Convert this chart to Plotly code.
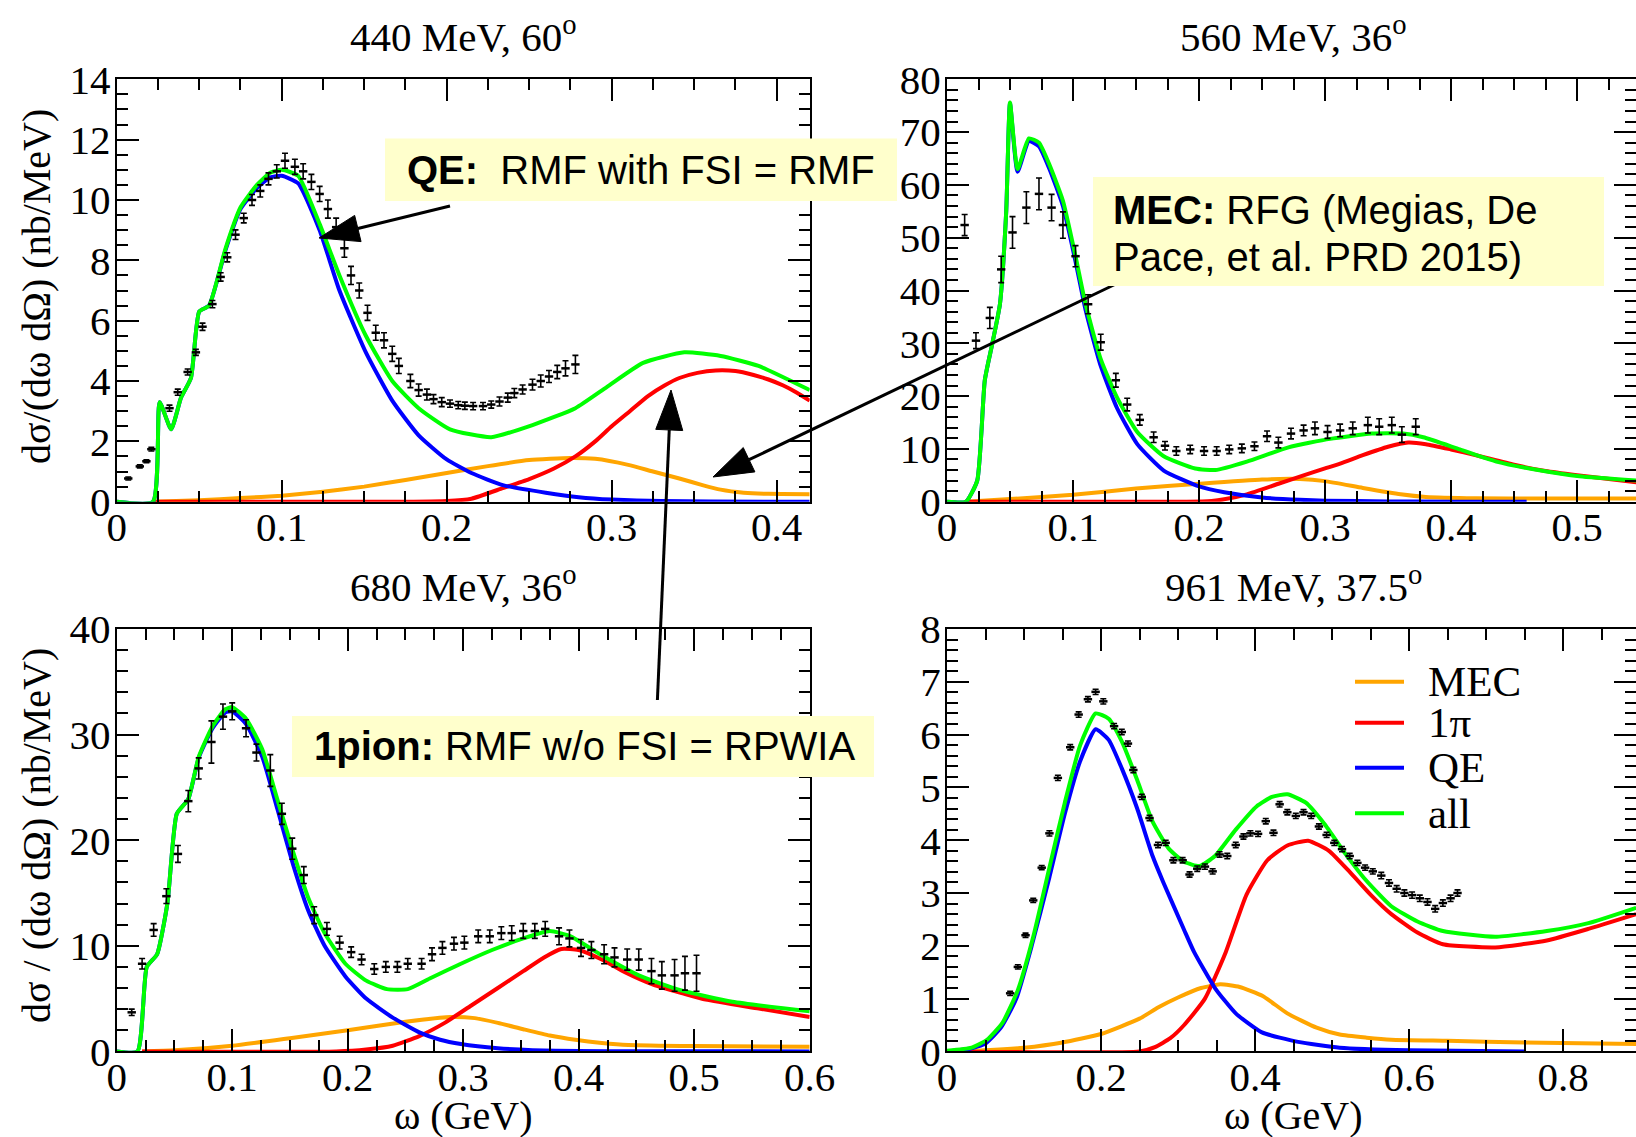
import math
import plotly.graph_objects as go

W, H = 1636, 1137

# ---------------- 440 MeV, 60 deg ----------------
w440_mec = [0.022, 0.05, 0.075, 0.1, 0.125, 0.15, 0.175, 0.2, 0.225, 0.25, 0.275, 0.29, 0.31, 0.325, 0.341, 0.355, 0.366, 0.38, 0.395, 0.42]
mec440 = [0, 0.05, 0.12, 0.2, 0.33, 0.5, 0.72, 0.95, 1.18, 1.38, 1.45, 1.42, 1.22, 1.0, 0.77, 0.55, 0.4, 0.3, 0.26, 0.25]
w440_pi = [0.022, 0.18, 0.2, 0.215, 0.234, 0.25, 0.265, 0.278, 0.29, 0.3, 0.311, 0.322, 0.332, 0.341, 0.352, 0.363, 0.375, 0.386, 0.395, 0.404, 0.412, 0.42]
pi440 = [0, 0, 0.02, 0.1, 0.45, 0.75, 1.1, 1.5, 2.0, 2.5, 3.0, 3.5, 3.85, 4.1, 4.27, 4.35, 4.33, 4.2, 4.05, 3.85, 3.62, 3.35]
w440_qe = [0, 0.022, 0.026, 0.033, 0.039, 0.045, 0.050, 0.056, 0.066, 0.075, 0.085, 0.093, 0.1, 0.11, 0.123, 0.135, 0.151, 0.167, 0.183, 0.2, 0.215, 0.234, 0.26, 0.28, 0.3, 0.33, 0.36, 0.42]
qe440 = [0, 0, 3.3, 2.4, 3.45, 4.1, 6.3, 6.5, 8.35, 9.7, 10.4, 10.75, 10.8, 10.55, 9.0, 7.0, 4.95, 3.35, 2.2, 1.4, 0.95, 0.55, 0.3, 0.15, 0.07, 0.02, 0.005, 0]
w440_all = [0, 0.022, 0.026, 0.033, 0.039, 0.045, 0.050, 0.056, 0.066, 0.075, 0.085, 0.093, 0.1, 0.11, 0.123, 0.135, 0.151, 0.167, 0.183, 0.202, 0.227, 0.252, 0.278, 0.297, 0.319, 0.344, 0.366, 0.389, 0.42]
all440 = [0, 0, 3.3, 2.4, 3.45, 4.1, 6.3, 6.5, 8.4, 9.75, 10.5, 10.9, 11.0, 10.8, 9.2, 7.5, 5.5, 4.0, 3.1, 2.4, 2.14, 2.54, 3.1, 3.8, 4.6, 4.95, 4.83, 4.5, 3.7]
d440_x = [0.007, 0.014, 0.018, 0.021, 0.032, 0.037, 0.043, 0.048, 0.052, 0.058, 0.063, 0.067, 0.072, 0.077, 0.082, 0.087, 0.092, 0.097, 0.102, 0.108, 0.113, 0.118, 0.123, 0.128, 0.133, 0.138, 0.142, 0.147, 0.152, 0.157, 0.162, 0.167, 0.171, 0.178, 0.183, 0.188, 0.192, 0.197, 0.202, 0.207, 0.211, 0.216, 0.222, 0.227, 0.232, 0.237, 0.241, 0.246, 0.252, 0.257, 0.262, 0.267, 0.272, 0.278]
d440_y = [0.77, 1.17, 1.34, 1.74, 3.1, 3.63, 4.3, 4.95, 5.8, 6.55, 7.45, 8.1, 8.85, 9.4, 10.0, 10.3, 10.7, 10.95, 11.3, 11.1, 10.95, 10.6, 10.2, 9.7, 9.1, 8.4, 7.5, 7.0, 6.26, 5.6, 5.35, 4.9, 4.5, 4.0, 3.7, 3.55, 3.4, 3.3, 3.25, 3.2, 3.18, 3.17, 3.17, 3.22, 3.32, 3.45, 3.6, 3.72, 3.88, 4.0, 4.15, 4.3, 4.42, 4.55]
d440_e = [0.05, 0.05, 0.05, 0.06, 0.1, 0.1, 0.1, 0.1, 0.12, 0.12, 0.14, 0.15, 0.16, 0.16, 0.18, 0.2, 0.2, 0.22, 0.25, 0.25, 0.25, 0.25, 0.25, 0.3, 0.3, 0.3, 0.3, 0.25, 0.25, 0.25, 0.25, 0.25, 0.25, 0.22, 0.2, 0.18, 0.15, 0.15, 0.12, 0.12, 0.12, 0.12, 0.12, 0.12, 0.15, 0.15, 0.15, 0.15, 0.18, 0.2, 0.2, 0.22, 0.25, 0.3]

# ---------------- 560 MeV, 36 deg ----------------
w560_mec = [0.015, 0.05, 0.1, 0.15, 0.2, 0.25, 0.28, 0.3, 0.33, 0.36, 0.38, 0.42, 0.47, 0.547]
mec560 = [0, 0.5, 1.3, 2.5, 3.4, 4.2, 4.3, 3.9, 2.6, 1.4, 0.9, 0.65, 0.6, 0.6]
w560_pi = [0.015, 0.19, 0.21, 0.22, 0.238, 0.263, 0.283, 0.3, 0.312, 0.33, 0.35, 0.366, 0.38, 0.4, 0.42, 0.45, 0.475, 0.5, 0.547]
pi560 = [0, 0, 0.15, 0.45, 1.4, 3.4, 5.0, 6.3, 7.2, 8.8, 10.4, 11.2, 10.9, 9.9, 8.8, 7.0, 5.8, 5.0, 3.7]
w560_qe = [0, 0.015, 0.024, 0.03, 0.036, 0.042, 0.047, 0.05, 0.056, 0.065, 0.073, 0.081, 0.092, 0.102, 0.11, 0.122, 0.135, 0.151, 0.172, 0.2, 0.22, 0.25, 0.28, 0.3, 0.35, 0.4, 0.46]
qe560 = [0, 0, 4, 23, 30, 37.4, 55, 75.4, 62.5, 68.3, 67.3, 63.2, 56, 45.5, 36.3, 25.7, 17.7, 10.9, 5.9, 2.9, 1.8, 0.8, 0.35, 0.2, 0.05, 0.01, 0]
w560_all = [0, 0.015, 0.024, 0.03, 0.036, 0.042, 0.047, 0.05, 0.056, 0.065, 0.073, 0.081, 0.092, 0.102, 0.11, 0.122, 0.135, 0.151, 0.172, 0.197, 0.213, 0.238, 0.271, 0.304, 0.337, 0.362, 0.378, 0.407, 0.436, 0.469, 0.502, 0.547]
all560 = [0, 0, 4, 23, 30, 37.4, 55, 75.6, 63, 68.8, 68, 64, 57, 46.5, 37.4, 27, 19.7, 13.2, 8.6, 6.3, 6.0, 7.6, 10.3, 11.9, 12.9, 12.9, 12.2, 9.9, 7.6, 6.0, 4.8, 4.0]
d560_x = [0.014, 0.023, 0.034, 0.043, 0.052, 0.063, 0.073, 0.083, 0.092, 0.102, 0.112, 0.122, 0.134, 0.143, 0.153, 0.164, 0.173, 0.182, 0.193, 0.204, 0.214, 0.224, 0.234, 0.244, 0.254, 0.263, 0.273, 0.283, 0.292, 0.302, 0.312, 0.322, 0.334, 0.343, 0.353, 0.361, 0.372]
d560_y = [52.4, 30.5, 34.8, 44, 51, 55.7, 58.3, 55.7, 52.4, 46.5, 37.4, 30.2, 23, 18.4, 15.5, 12.2, 10.6, 9.6, 9.9, 9.6, 9.6, 9.9, 10.1, 10.5, 12.4, 11.2, 12.9, 13.5, 13.9, 13.2, 13.5, 13.9, 14.5, 14.2, 14.5, 12.7, 14.2]
d560_e = [2, 1.5, 2, 2.5, 3, 3, 3, 2.5, 2.5, 2, 1.8, 1.5, 1.3, 1.2, 1, 1, 0.8, 0.8, 0.8, 0.8, 0.8, 0.8, 0.8, 0.8, 1, 1, 1, 1, 1.2, 1.2, 1.2, 1.2, 1.5, 1.5, 1.5, 1.5, 1.5]

# ---------------- 680 MeV, 36 deg ----------------
w680_mec = [0.022, 0.05, 0.1, 0.15, 0.2, 0.25, 0.289, 0.31, 0.33, 0.352, 0.375, 0.397, 0.42, 0.443, 0.5, 0.6]
mec680 = [0, 0.1, 0.54, 1.25, 2.0, 2.8, 3.26, 3.15, 2.7, 2.1, 1.5, 1.1, 0.8, 0.6, 0.5, 0.45]
w680_pi = [0.022, 0.19, 0.216, 0.239, 0.262, 0.284, 0.307, 0.33, 0.352, 0.37, 0.385, 0.4, 0.42, 0.44, 0.465, 0.49, 0.51, 0.556, 0.6]
pi680 = [0, 0, 0.18, 0.54, 1.45, 2.7, 4.35, 6.0, 7.6, 8.9, 9.7, 9.6, 8.7, 7.5, 6.3, 5.5, 4.9, 4.06, 3.26]
w680_qe = [0, 0.018, 0.026, 0.035, 0.044, 0.052, 0.062, 0.071, 0.083, 0.094, 0.1, 0.112, 0.126, 0.139, 0.153, 0.166, 0.18, 0.198, 0.216, 0.239, 0.262, 0.28, 0.298, 0.33, 0.36, 0.4, 0.45, 0.6]
qe680 = [0, 0, 8, 9.2, 14.1, 22.5, 23.9, 27.8, 30.6, 32.1, 32.2, 31.0, 27.9, 23.0, 17.6, 13.3, 10.0, 7.1, 5.0, 3.2, 1.8, 1.1, 0.7, 0.3, 0.12, 0.04, 0.01, 0]
w680_all = [0, 0.018, 0.026, 0.035, 0.044, 0.052, 0.062, 0.071, 0.083, 0.094, 0.1, 0.112, 0.126, 0.139, 0.153, 0.166, 0.18, 0.198, 0.216, 0.234, 0.252, 0.271, 0.298, 0.325, 0.352, 0.375, 0.393, 0.42, 0.452, 0.488, 0.533, 0.6]
all680 = [0, 0, 8, 9.2, 14.1, 22.5, 23.9, 27.9, 30.8, 32.4, 32.6, 31.5, 28.6, 23.9, 18.8, 14.5, 11.2, 8.3, 6.7, 5.9, 5.9, 6.9, 8.3, 9.6, 10.7, 11.4, 10.9, 9.1, 7.2, 5.8, 4.7, 3.8]
d680_x = [0.013, 0.022, 0.032, 0.043, 0.053, 0.062, 0.071, 0.082, 0.092, 0.1, 0.112, 0.121, 0.133, 0.143, 0.152, 0.162, 0.171, 0.182, 0.193, 0.203, 0.212, 0.223, 0.233, 0.243, 0.252, 0.264, 0.273, 0.282, 0.292, 0.301, 0.313, 0.323, 0.333, 0.342, 0.352, 0.362, 0.371, 0.383, 0.392, 0.402, 0.411, 0.422, 0.431, 0.442, 0.452, 0.463, 0.472, 0.483, 0.492, 0.502]
d680_y = [3.7, 8.3, 11.5, 14.7, 18.7, 23.7, 26.8, 29.3, 31.7, 32.2, 30.6, 28.3, 26.6, 22.5, 19.2, 16.7, 12.9, 11.6, 10.3, 9.4, 8.7, 7.8, 8.0, 8.0, 8.3, 8.3, 9.2, 9.8, 10.2, 10.3, 10.9, 10.9, 11.2, 11.2, 11.4, 11.4, 11.6, 10.9, 10.7, 9.8, 9.6, 9.2, 8.9, 8.7, 8.7, 7.6, 7.2, 7.2, 7.4, 7.4]
d680_e = [0.3, 0.5, 0.6, 0.7, 0.8, 1.0, 1.0, 2.0, 1.2, 0.8, 0.8, 0.8, 1.5, 1.0, 1.0, 0.8, 0.8, 0.6, 0.6, 0.5, 0.5, 0.5, 0.5, 0.5, 0.5, 0.5, 0.6, 0.6, 0.6, 0.6, 0.6, 0.6, 0.6, 0.7, 0.7, 0.7, 0.7, 0.8, 0.8, 0.8, 0.8, 0.9, 0.9, 1.0, 1.0, 1.2, 1.3, 1.5, 1.6, 1.7]

# ---------------- 961 MeV, 37.5 deg ----------------
w961_mec = [0, 0.05, 0.1, 0.15, 0.2, 0.25, 0.274, 0.3, 0.33, 0.355, 0.38, 0.41, 0.442, 0.48, 0.51, 0.545, 0.577, 0.65, 0.75, 0.895]
mec961 = [0, 0.02, 0.07, 0.17, 0.33, 0.62, 0.83, 1.02, 1.2, 1.27, 1.22, 1.05, 0.72, 0.45, 0.32, 0.26, 0.22, 0.2, 0.17, 0.14]
w961_pi = [0, 0.25, 0.27, 0.29, 0.308, 0.335, 0.362, 0.389, 0.416, 0.442, 0.469, 0.496, 0.523, 0.55, 0.577, 0.611, 0.644, 0.712, 0.779, 0.833, 0.895]
pi961 = [0, 0, 0.08, 0.25, 0.5, 1.0, 1.88, 2.97, 3.62, 3.9, 3.99, 3.8, 3.4, 2.97, 2.6, 2.25, 2.03, 1.97, 2.1, 2.32, 2.6]
w961_qe = [0, 0.03, 0.05, 0.07, 0.09, 0.11, 0.133, 0.153, 0.173, 0.193, 0.21, 0.227, 0.247, 0.267, 0.281, 0.308, 0.321, 0.348, 0.375, 0.409, 0.456, 0.51, 0.6, 0.752]
qe961 = [0, 0.05, 0.15, 0.45, 1.0, 2.0, 3.3, 4.5, 5.5, 6.1, 5.9, 5.36, 4.6, 3.7, 3.2, 2.3, 1.88, 1.2, 0.72, 0.36, 0.18, 0.07, 0.02, 0]
w961_all = [0, 0.032, 0.052, 0.072, 0.092, 0.112, 0.133, 0.153, 0.173, 0.193, 0.21, 0.227, 0.247, 0.267, 0.288, 0.308, 0.328, 0.348, 0.375, 0.402, 0.422, 0.442, 0.466, 0.49, 0.516, 0.543, 0.577, 0.611, 0.644, 0.712, 0.779, 0.833, 0.895]
all961 = [0.01, 0.07, 0.22, 0.54, 1.16, 2.17, 3.48, 4.71, 5.8, 6.4, 6.3, 5.87, 5.14, 4.35, 3.84, 3.59, 3.51, 3.7, 4.2, 4.64, 4.82, 4.87, 4.71, 4.31, 3.77, 3.26, 2.75, 2.46, 2.28, 2.17, 2.28, 2.43, 2.72]
d961_x = [0.082, 0.092, 0.102, 0.112, 0.123, 0.133, 0.144, 0.16, 0.171, 0.183, 0.193, 0.203, 0.217, 0.227, 0.235, 0.242, 0.253, 0.263, 0.274, 0.284, 0.294, 0.306, 0.315, 0.325, 0.335, 0.345, 0.354, 0.364, 0.375, 0.385, 0.394, 0.404, 0.414, 0.424, 0.432, 0.442, 0.453, 0.463, 0.473, 0.483, 0.493, 0.503, 0.513, 0.523, 0.533, 0.543, 0.553, 0.564, 0.574, 0.584, 0.594, 0.604, 0.614, 0.624, 0.634, 0.644, 0.654, 0.663]
d961_y = [1.1, 1.6, 2.2, 2.86, 3.48, 4.13, 5.18, 5.76, 6.38, 6.67, 6.81, 6.63, 6.16, 6.05, 5.83, 5.33, 4.82, 4.42, 3.91, 3.95, 3.62, 3.62, 3.35, 3.46, 3.5, 3.41, 3.73, 3.7, 3.91, 4.07, 4.13, 4.12, 4.36, 4.14, 4.68, 4.53, 4.46, 4.53, 4.46, 4.26, 4.1, 3.95, 3.83, 3.7, 3.57, 3.48, 3.41, 3.33, 3.19, 3.08, 3.0, 2.96, 2.9, 2.83, 2.7, 2.81, 2.9, 3.0]
d961_e = [0.04, 0.04, 0.04, 0.04, 0.04, 0.05, 0.05, 0.05, 0.05, 0.05, 0.05, 0.05, 0.05, 0.05, 0.05, 0.05, 0.05, 0.05, 0.05, 0.05, 0.05, 0.05, 0.05, 0.05, 0.05, 0.05, 0.05, 0.05, 0.05, 0.05, 0.05, 0.05, 0.05, 0.05, 0.05, 0.05, 0.05, 0.05, 0.05, 0.05, 0.05, 0.05, 0.05, 0.05, 0.05, 0.05, 0.05, 0.06, 0.06, 0.06, 0.06, 0.06, 0.06, 0.06, 0.06, 0.06, 0.06, 0.06]

titles = ["440 MeV, 60<sup>o</sup>", "560 MeV, 36<sup>o</sup>", "680 MeV, 36<sup>o</sup>", "961 MeV, 37.5<sup>o</sup>"]
legend_names = ["MEC", "1π", "QE", "all"]
colors = ["#ffa500", "#ff0000", "#0000ff", "#00ff00"]

SERIF = "Liberation Serif"
SANS = "Liberation Sans"


def px_x(x):
    return x / W


def px_y(y):
    return 1 - y / H


panels = [
    dict(ax="", curves=[(w440_mec, mec440), (w440_pi, pi440), (w440_qe, qe440), (w440_all, all440)],
         data=(d440_x, d440_y, d440_e)),
    dict(ax="2", curves=[(w560_mec, mec560), (w560_pi, pi560), (w560_qe, qe560), (w560_all, all560)],
         data=(d560_x, d560_y, d560_e)),
    dict(ax="3", curves=[(w680_mec, mec680), (w680_pi, pi680), (w680_qe, qe680), (w680_all, all680)],
         data=(d680_x, d680_y, d680_e)),
    dict(ax="4", curves=[(w961_mec, mec961), (w961_pi, pi961), (w961_qe, qe961), (w961_all, all961)],
         data=(d961_x, d961_y, d961_e)),
]

fig = go.Figure()
for p in panels:
    xa, ya = "x" + p["ax"], "y" + p["ax"]
    for (wx, vy), col, name in zip(p["curves"], colors, legend_names):
        fig.add_trace(go.Scatter(x=wx, y=vy, mode="lines", name=name, showlegend=False,
                                 line=dict(color=col, width=4, shape="spline", smoothing=0.5),
                                 xaxis=xa, yaxis=ya))
    dx, dy, de = p["data"]
    fig.add_trace(go.Scatter(x=dx, y=dy, mode="markers", showlegend=False, xaxis=xa, yaxis=ya,
                             marker=dict(symbol="line-ew", size=6, color="black",
                                         line=dict(color="black", width=2.5)),
                             error_y=dict(type="data", array=de, visible=True, color="black",
                                          thickness=1.6, width=3),
                             cliponaxis=False))

# frame geometry (pixels)
L1, R1 = 116.7, 809.7
L2, R2 = 947.0, 1636.0
T1, B1 = 79.3, 501.7
T2, B2 = 629.0, 1051.4

axis_common = dict(showline=True, linewidth=2, linecolor="black", mirror="allticks",
                   ticks="inside", ticklen=22, tickwidth=2, tickcolor="black",
                   showgrid=False, zeroline=False, automargin=False,
                   tickfont=dict(family=SERIF, size=41, color="black"))
xcommon = dict(axis_common, ticklabelstandoff=-12)
ycommon = dict(axis_common, ticklabelstandoff=-4)


def minor(d):
    return dict(dtick=d, ticks="inside", ticklen=11, tickwidth=2, tickcolor="black", showgrid=False)


fig.update_layout(
    width=W, height=H, margin=dict(l=0, r=0, t=0, b=0, pad=0), autosize=False,
    paper_bgcolor="white", plot_bgcolor="white", showlegend=False,
    xaxis=dict(xcommon, domain=[px_x(L1), px_x(R1)], anchor="y", range=[0, 0.42],
               tick0=0, dtick=0.1, minor=minor(0.025)),
    yaxis=dict(ycommon, domain=[px_y(B1), px_y(T1)], anchor="x", range=[0, 14],
               tick0=0, dtick=2, minor=minor(0.5)),
    xaxis2=dict(xcommon, domain=[px_x(L2), 1.0], anchor="y2", range=[0, 0.5468],
                tick0=0, dtick=0.1, minor=minor(0.025)),
    yaxis2=dict(ycommon, domain=[px_y(B1), px_y(T1)], anchor="x2", range=[0, 80],
                tick0=0, dtick=10, minor=minor(2)),
    xaxis3=dict(xcommon, domain=[px_x(L1), px_x(R1)], anchor="y3", range=[0, 0.6],
                tick0=0, dtick=0.1, minor=minor(0.025)),
    yaxis3=dict(ycommon, domain=[px_y(B2), px_y(T2)], anchor="x3", range=[0, 40],
                tick0=0, dtick=10, minor=minor(2)),
    xaxis4=dict(xcommon, domain=[px_x(L2), 1.0], anchor="y4", range=[0, 0.8948],
                tick0=0, dtick=0.2, minor=minor(0.05)),
    yaxis4=dict(ycommon, domain=[px_y(B2), px_y(T2)], anchor="x4", range=[0, 8],
                tick0=0, dtick=1, minor=minor(0.2)),
)

annotations = []


def add_text(text, x, y, size, family=SERIF, xanchor="center", yanchor="middle", angle=0):
    annotations.append(dict(text=text, x=px_x(x), y=px_y(y), xref="paper", yref="paper",
                            xanchor=xanchor, yanchor=yanchor, showarrow=False, textangle=angle,
                            font=dict(family=family, size=size, color="black")))


# panel titles
cx1, cx2 = (L1 + R1) / 2, (L2 + 1640) / 2
add_text(titles[0], cx1, 34, 41)
add_text(titles[1], cx2, 34, 41)
add_text(titles[2], cx1, 584, 41)
add_text(titles[3], cx2, 584, 41)

# axis titles
add_text("dσ/(dω dΩ) (nb/MeV)", 36, 287, 40, angle=-90)
add_text("dσ / (dω dΩ) (nb/MeV)", 36, 836, 40, angle=-90)
add_text("ω (GeV)", cx1, 1115, 40)
add_text("ω (GeV)", cx2, 1115, 40)

# legend inside the 961 MeV panel
shapes = []
leg_y = [681.7, 722.7, 767.7, 813.3]
for name, col, ly in zip(legend_names, colors, leg_y):
    shapes.append(dict(type="line", xref="paper", yref="paper", x0=px_x(1355), x1=px_x(1404),
                       y0=px_y(ly), y1=px_y(ly), line=dict(color=col, width=4)))
    add_text(name, 1426, ly, 43, xanchor="left")


def arrow(tail, tip, head_len=40, head_w=27, lw=3):
    dx, dy = tip[0] - tail[0], tip[1] - tail[1]
    n = math.hypot(dx, dy)
    ux, uy = dx / n, dy / n
    bx, by = tip[0] - ux * head_len, tip[1] - uy * head_len
    nx, ny = -uy, ux
    p1 = (bx + nx * head_w / 2, by + ny * head_w / 2)
    p2 = (bx - nx * head_w / 2, by - ny * head_w / 2)
    shapes.append(dict(type="line", xref="paper", yref="paper", x0=px_x(tail[0]), y0=px_y(tail[1]),
                       x1=px_x(bx), y1=px_y(by), line=dict(color="black", width=lw)))
    path = "M {:.5f},{:.5f} L {:.5f},{:.5f} L {:.5f},{:.5f} Z".format(
        px_x(tip[0]), px_y(tip[1]), px_x(p1[0]), px_y(p1[1]), px_x(p2[0]), px_y(p2[1]))
    shapes.append(dict(type="path", xref="paper", yref="paper", path=path,
                       fillcolor="black", line=dict(color="black", width=1)))


arrow((450, 206), (319, 238))
arrow((1120, 282), (713, 477))
arrow((657.4, 700), (671, 390))


def box(x0, y0, x1, y1):
    shapes.append(dict(type="rect", xref="paper", yref="paper", x0=px_x(x0), x1=px_x(x1),
                       y0=px_y(y1), y1=px_y(y0), fillcolor="#ffffcc", line=dict(width=0)))


box(385, 138.5, 897, 201)
box(1093, 177, 1604, 286)
box(292, 716, 874, 777)

add_text("<b>QE:</b>\u00a0\u00a0RMF with FSI = RMF", 405, 170, 40, family=SANS, xanchor="left")
add_text("<b>MEC:</b> RFG (Megias, De", 1111, 210, 40, family=SANS, xanchor="left")
add_text("Pace, et al. PRD 2015)", 1111, 257, 40, family=SANS, xanchor="left")
add_text("<b>1pion:</b> RMF w/o FSI = RPWIA", 312, 746, 40, family=SANS, xanchor="left")

fig.update_layout(shapes=shapes, annotations=annotations)
fig.write_html("out.html")
